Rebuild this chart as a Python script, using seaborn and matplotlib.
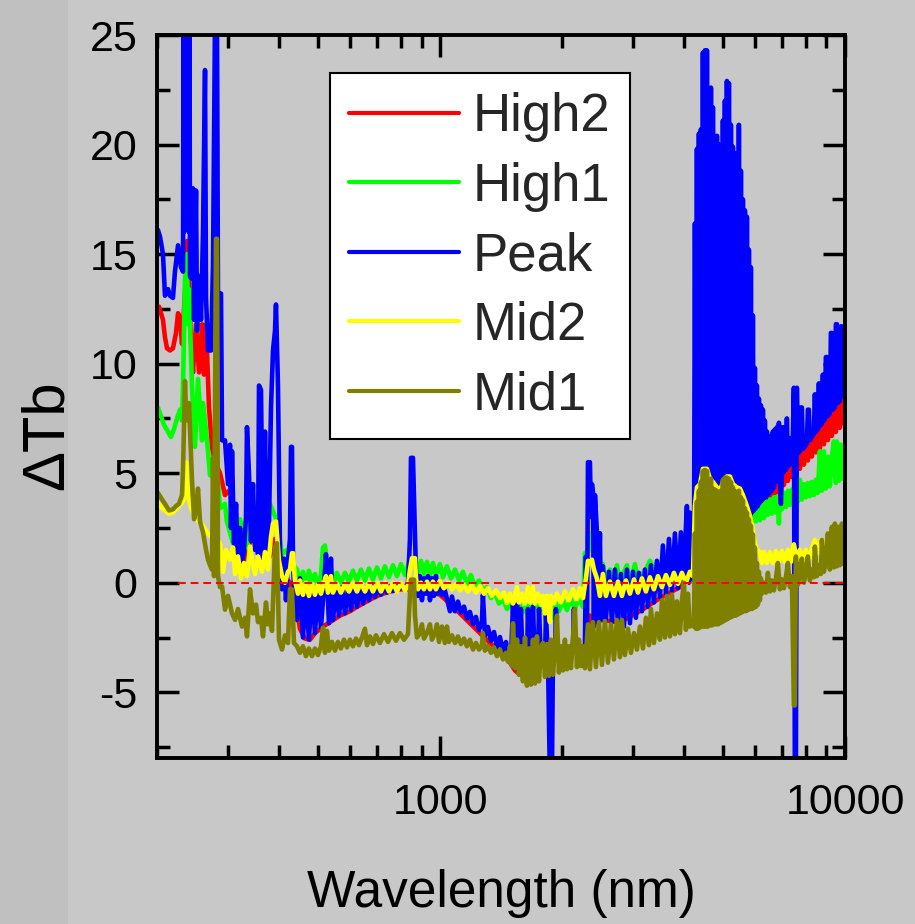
import matplotlib
matplotlib.use("Agg")
import matplotlib.pyplot as plt
from matplotlib.patches import Rectangle
from matplotlib.ticker import FixedLocator, LogLocator, MultipleLocator, NullFormatter, FuncFormatter
import numpy as np
import pandas as pd
import seaborn as sns

# Brightness-temperature differences (K) versus wavelength (nm), one list of
# (wavelength, dTb) pairs per scenario.
HIGH2 = [
    (202.3, 12.6), (204.6, 12.3), (206.9, 12.0), (209.3, 11.2), (211.7, 10.7), (215.3, 10.6),
    (219.0, 10.7), (222.8, 11.4), (225.4, 12.3), (227.9, 12.1), (230.6, 10.9), (233.2, 12.5),
    (235.8, 14.0), (237.2, 15.6), (239.9, 13.6), (242.7, 11.0), (245.4, 9.6), (249.7, 11.8),
    (254.0, 9.6), (258.4, 11.8), (261.3, 9.5), (264.3, 11.8), (268.8, 8.0), (273.4, 6.2),
    (278.1, 5.5), (286.2, 5.0), (294.4, 4.0), (301.2, 4.2), (306.4, 4.0), (311.7, 1.6),
    (320.7, 1.2), (329.9, 0.75), (339.4, 1.9), (349.2, 1.9), (359.2, 1.2), (369.6, 1.0),
    (380.2, 1.2), (391.2, 2.0), (402.5, 1.2), (414.1, 0.3), (426.0, 0.0), (438.3, -0.6),
    (450.9, -2.1), (463.9, -2.55), (477.3, -2.6), (491.0, -2.3), (513.9, -2.0), (534.7, -1.8),
    (566.1, -1.5), (599.2, -1.3), (623.5, -1.1), (652.5, -0.9), (682.9, -0.7), (710.6, -0.55),
    (752.2, -0.4), (796.2, -0.3), (842.8, -0.3), (892.1, -0.35), (944.3, -0.4), (999.5, -0.55),
    (1058, -0.95), (1120, -1.4), (1185, -1.85), (1255, -2.3), (1328, -2.75), (1406, -3.15),
    (1471, -3.5), (1531, -4.0), (1575, -4.2), (1620, -4.2), (1667, -3.9), (1715, -3.7),
    (1816, -3.6), (1922, -3.45), (2034, -3.3), (2153, -3.1), (2279, -3.0), (2345, -1.5),
    (2482, -1.7), (2781, -1.8), (3116, -1.3), (3491, -0.7), (3912, -0.2), (4260, 0.5),
    (4639, 1.5), (5198, 2.0), (5823, 2.8), (5890, 3.2), (6025, 3.35), (6164, 3.5),
    (6306, 3.7), (6450, 3.8), (6524, 4.19), (6599, 3.9), (6674, 4.43), (6751, 4.09),
    (6828, 4.66), (6906, 4.27), (6985, 4.89), (7065, 4.46), (7145, 5.12), (7227, 4.65),
    (7310, 5.35), (7393, 4.83), (7478, 5.59), (7563, 5.02), (7650, 5.82), (7737, 5.2),
    (7826, 6.05), (7915, 5.39), (8006, 6.28), (8097, 5.58), (8190, 6.51), (8283, 5.76),
    (8378, 6.75), (8474, 5.95), (8571, 6.98), (8669, 6.14), (8768, 7.21), (8868, 6.32),
    (8969, 7.44), (9072, 6.51), (9176, 7.67), (9280, 6.7), (9387, 7.91), (9494, 6.88),
    (9602, 8.14), (9712, 7.07), (9823, 8.37), (9936, 7.26), (9992, 8.5),
]

HIGH1 = [
    (201.1, 8.0), (204.6, 7.6), (208.1, 7.2), (212.9, 6.9), (216.5, 6.65), (220.2, 7.0),
    (224.1, 7.5), (227.9, 7.9), (230.6, 7.4), (231.9, 9.0), (234.5, 13.9), (237.2, 15.0),
    (238.6, 11.8), (239.9, 13.4), (244.0, 9.0), (248.2, 6.2), (252.5, 9.3), (258.4, 6.5),
    (259.8, 8.2), (265.8, 6.5), (270.4, 4.9), (275.0, 5.7), (281.3, 5.2), (286.2, 3.4),
    (294.4, 3.6), (297.5, 2.8), (308.2, 1.8), (313.5, 2.3), (320.7, 2.9), (333.6, 1.6),
    (339.4, 2.6), (345.2, 3.2), (353.1, 2.1), (363.3, 1.5), (369.6, 2.3), (380.2, 3.6),
    (395.7, 2.8), (407.1, 1.3), (418.8, 1.5), (426.0, 1.0),
    (443.3, 0.6), (450.9, 0.0), (458.7, 0.5), (466.5, -0.1), (474.5, 0.55), (482.7, 0.0),
    (491.0, 0.4), (499.4, -0.1), (508.0, 0.35), (513.9, 1.6), (519.8, 1.7), (525.7, 0.9),
    (531.7, -0.1), (537.8, 0.7), (547.0, 0.0), (556.5, 0.45), (569.0, 0.0), (582.4, 0.45),
    (595.8, 0.05), (609.5, 0.55), (623.5, 0.1), (637.8, 0.6), (652.5, 0.1), (667.6, 0.65),
    (682.9, 0.15), (698.6, 0.7), (714.7, 0.2), (731.1, 0.75), (748.0, 0.25), (765.2, 0.8),
    (782.8, 0.3), (800.8, 0.85), (819.2, 0.35), (838.1, 0.95), (852.4, 1.05), (867.1, 1.2),
    (882.0, 0.4), (897.2, 1.0), (912.6, 0.4), (928.3, 0.95), (944.3, 0.35), (960.5, 0.9),
    (977.0, 0.3), (999.5, 0.85), (1017, 0.25), (1040, 0.75), (1064, 0.2), (1089, 0.6),
    (1114, 0.1), (1139, 0.5), (1165, -0.05), (1192, 0.35), (1220, -0.2), (1248, 0.1),
    (1276, -0.4), (1306, -0.2), (1336, -0.7), (1366, -0.45), (1398, -0.95), (1430, -0.75),
    (1463, -1.2), (1496, -0.85), (1531, -1.35), (1566, -0.95), (1602, -1.35), (1639, -0.95),
    (1677, -1.3), (1715, -0.9), (1755, -1.3), (1775, -0.9), (1816, -1.45), (1858, -1.0),
    (1889, -1.6), (1922, -0.85), (1966, -1.3), (2011, -0.8), (2058, -1.25), (2105, -0.75),
    (2153, -1.2), (2203, -0.65), (2254, -1.1), (2279, 1.35), (2305, 1.4), (2332, 1.5),
    (2372, 2.26), (2413, 2.3), (2454, 2.25), (2482, 0.9), (2525, 0.85), (2568, 0.0),
    (2628, 0.6), (2673, 0.0), (2734, 0.8), (2781, 0.0), (2845, 0.5), (2894, 0.8),
    (2944, 0.0), (3029, 0.85), (3081, 0.1), (3152, 0.4), (3206, 0.5), (3298, 1.0),
    (3394, 0.5), (3696, 1.0), (3912, 1.3), (4140, 1.5), (4911, 2.0), (5660, 2.3),
    (5823, 2.6), (5890, 2.75), (5957, 3.5), (6025, 2.8), (6094, 3.55), (6164, 2.85),
    (6234, 3.65), (6306, 2.95), (6378, 3.7), (6450, 3.1), (6524, 3.8), (6599, 3.15),
    (6674, 3.9), (6751, 3.2), (6828, 3.95), (6867, 2.7), (6906, 4.0), (6985, 3.35),
    (7065, 4.1), (7145, 3.45), (7227, 4.2), (7310, 3.55), (7393, 4.25), (7478, 3.6),
    (7563, 4.3), (7650, 3.7), (7737, 4.7), (7826, 3.8), (7915, 4.5), (8006, 3.9),
    (8097, 4.55), (8190, 3.95), (8283, 4.6), (8378, 4.0), (8474, 4.7), (8571, 4.1),
    (8669, 6.0), (8768, 4.2), (8868, 6.0), (8969, 4.3), (9072, 5.75), (9176, 4.4),
    (9280, 5.75), (9387, 6.45), (9494, 4.55), (9548, 6.45), (9657, 4.65), (9768, 6.3),
    (9879, 4.75), (9992, 5.4),
]

PEAK = [
    (201.1, 16.1), (203.4, 15.8), (206.9, 15.0), (209.3, 13.1), (212.9, 13.4), (215.3, 13.1),
    (219.0, 13.0), (221.5, 14.2), (225.4, 15.4), (229.2, 14.4), (231.9, 14.2), (232.5, 25.6),
    (233.2, 16.0), (233.9, 25.6), (234.5, 17.0), (235.2, 25.6), (235.8, 18.0), (236.5, 25.6),
    (237.2, 20.0), (237.9, 25.6), (238.6, 23.0), (239.2, 25.6), (239.9, 16.0), (240.6, 25.6),
    (241.3, 14.0), (242.7, 13.9),
    (245.4, 18.0), (246.9, 12.0), (249.7, 17.9), (251.1, 11.5), (254.0, 14.0), (256.9, 12.0),
    (259.8, 16.0), (262.8, 23.4), (264.3, 13.0), (267.3, 10.6), (271.9, 10.6), (275.0, 14.5),
    (278.1, 25.6), (281.3, 25.6), (282.9, 13.2), (287.8, 13.2), (289.5, 6.5), (294.4, 6.5),
    (299.5, 4.5), (302.9, 6.3), (304.6, 2.5), (306.4, 6.0), (309.9, 1.8), (313.5, 3.6),
    (317.0, 0.9), (320.7, 2.5), (324.3, 0.8), (328.0, 1.5), (331.8, 3.0), (333.6, 7.1),
    (337.4, 5.0), (341.3, 1.9), (345.2, 4.5), (349.2, 1.5), (353.1, 3.0), (355.2, 1.3),
    (357.2, 9.0), (361.3, 8.8), (365.4, 0.8), (369.6, 6.9), (373.8, 1.0), (378.0, 2.5),
    (382.4, 8.0), (386.8, 10.6), (391.2, 11.5), (393.4, 12.7), (397.9, 9.0), (402.5, 1.5),
    (407.1, -0.3), (411.7, 1.1), (416.4, -0.8), (421.2, 1.0), (426.0, 2.0), (428.4, 6.2),
    (430.9, 6.2), (433.3, 1.1), (438.3, -1.5),
    (443.3, -1.7), (450.9, 0.2), (458.7, -2.5), (466.5, -0.3), (474.5, -2.6), (482.7, -0.1),
    (491.0, -2.3), (499.4, -0.3), (508.0, -2.05), (516.8, -0.2), (522.7, 1.3), (531.7, -1.85),
    (537.8, 1.1), (543.9, -1.7), (553.3, -0.25), (562.8, -1.5), (572.5, -0.2), (582.4, -1.4),
    (592.4, -0.3), (602.6, -1.25), (613.0, -0.2), (623.5, -1.1), (634.2, -0.15), (645.1, -0.95),
    (656.3, -0.2), (667.6, -0.8), (679.0, -0.1), (690.7, -0.65), (702.6, -0.15), (714.7, -0.55),
    (727.0, -0.1), (739.5, -0.45), (752.2, -0.15), (765.2, -0.38), (778.4, -0.1), (791.8, -0.3),
    (805.4, -0.1), (819.2, -0.28), (833.3, 0.0), (842.8, 2.0), (847.6, 5.7), (857.3, 5.7),
    (862.2, 4.0), (872.0, 0.5), (882.0, -0.6), (892.1, 0.3), (902.3, -0.8), (912.6, 0.2),
    (923.0, -0.5), (933.6, 0.3), (944.3, -0.8), (955.0, 0.2), (966.0, -0.6), (977.0, 0.3),
    (988.2, -0.5), (999.5, 0.1),
    (1011, -0.56), (1028, -0.36), (1058, -1.3), (1070, -0.63), (1088, -1.3), (1107, -0.86),
    (1126, -1.37), (1146, -1.09), (1165, -1.63), (1185, -1.33), (1206, -1.89), (1226, -1.56),
    (1248, -2.15), (1269, -1.79), (1276, -0.55), (1291, -2.41), (1313, -2.02), (1336, -2.66),
    (1359, -2.25), (1382, -2.92), (1406, -2.48), (1430, -3.18), (1455, -2.71),
    (1471, -3.4), (1496, -3.6), (1514, -1.0), (1531, -3.9), (1549, -1.0), (1566, -4.1),
    (1584, -1.2), (1602, -4.1), (1621, -3.9), (1639, -4.0), (1648, -1.2), (1667, -3.8),
    (1686, -3.7), (1696, -1.1), (1715, -3.6), (1745, -3.55), (1755, -1.2), (1775, -3.55),
    (1816, -3.5), (1826, -1.5), (1847, -3.45), (1868, -9.0), (1889, -9.0), (1900, -3.4),
    (1922, -3.35), (1933, -1.2), (1944, -3.35), (2034, -3.2), (2129, -3.05), (2141, -1.2),
    (2153, -3.0), (2254, -2.9), (2279, -2.9),
    (2292, 1.2), (2305, -2.9), (2319, 5.5), (2345, 5.5), (2359, 3.0), (2372, 4.5),
    (2385, 4.15), (2399, -2.0), (2413, 4.0), (2440, 2.3), (2454, -1.8), (2482, 2.26),
    (2496, -1.7), (2525, 0.75), (2568, -1.7), (2613, 0.5), (2658, -1.8), (2703, 0.6),
    (2750, -1.9), (2797, 0.4), (2845, -2.0), (2894, 0.6), (2944, -1.85), (2995, 0.5),
    (3046, -1.6), (3098, 0.45), (3152, -1.3), (3206, 0.6), (3261, -1.1), (3317, 0.8),
    (3374, -0.9), (3432, 1.0), (3491, -0.65), (3551, 1.7), (3613, -0.5), (3675, 2.0),
    (3738, -0.35), (3802, 2.25), (3867, -0.25), (3934, 2.3), (4002, -0.1), (4047, 2.55),
    (4070, 3.5), (4117, 0.0), (4140, 3.2), (4188, 2.7), (4236, 0.1),
    (4260, 16.4), (4284, 1.0), (4309, 19.8), (4333, 1.0), (4358, 20.5), (4383, 1.0),
    (4408, 20.7), (4433, 1.0), (4458, 24.2), (4484, 1.0), (4509, 24.3), (4535, 1.0),
    (4561, 24.3), (4587, 1.0), (4613, 21.4), (4639, 1.0), (4666, 22.6), (4692, 1.0),
    (4719, 21.7), (4746, 1.0), (4773, 19.9), (4800, 1.0), (4828, 20.4), (4855, 1.0),
    (4883, 20.0), (4911, 1.0), (4939, 19.9), (4967, 1.0), (4995, 21.1), (5024, 1.0),
    (5052, 22.0), (5081, 1.0), (5110, 22.9), (5139, 1.0), (5168, 22.8), (5198, 1.0),
    (5227, 20.9), (5257, 1.0), (5287, 19.9), (5317, 1.0), (5347, 19.6), (5378, 1.0),
    (5409, 19.4), (5439, 1.0), (5470, 20.9), (5502, 1.0), (5533, 18.8), (5564, 1.0),
    (5596, 17.5), (5628, 1.0), (5660, 17.0), (5692, 1.0), (5725, 16.7), (5757, 1.0),
    (5790, 15.2), (5823, 3.0), (5856, 14.4), (5890, 3.2), (5923, 12.2), (5957, 3.3),
    (5991, 9.8), (6025, 3.4), (6059, 9.0), (6094, 3.5), (6129, 8.4), (6164, 3.65),
    (6199, 8.1), (6234, 3.75), (6270, 7.9), (6306, 3.85), (6341, 7.4), (6378, 3.9),
    (6414, 6.9), (6450, 4.0), (6487, 6.5), (6524, 4.1), (6561, 6.7), (6599, 4.2),
    (6636, 6.9), (6674, 4.35),
    (6712, 7.0), (6751, 4.6), (6789, 7.1), (6828, 4.7), (6867, 7.3), (6906, 4.8),
    (6945, 3.6), (6985, 4.95), (7025, 7.1), (7065, 5.05), (7105, 7.0), (7145, 5.15),
    (7186, 7.5), (7227, 5.3), (7268, 6.4), (7310, 5.4), (7351, 6.6), (7393, 5.5),
    (7435, 6.8), (7478, 8.9), (7520, -9.0), (7563, -9.0), (7606, 8.9), (7650, 5.9),
    (7737, 6.0), (7781, 8.0), (7826, 8.0), (7870, 6.1), (8051, 6.35), (8097, 7.9),
    (8143, 7.9), (8190, 6.5), (8378, 6.8), (8426, 8.6), (8474, 6.9), (8571, 7.0),
    (8619, 9.1), (8669, 7.15), (8768, 7.25), (8818, 9.5), (8868, 7.4), (8918, 7.45),
    (8969, 10.3), (9020, 10.3), (9072, 7.6), (9176, 7.75), (9228, 11.4), (9280, 11.4),
    (9333, 7.9), (9440, 8.0), (9494, 11.8), (9548, 11.8), (9602, 8.2), (9712, 8.3),
    (9768, 11.7), (9823, 11.7), (9879, 8.5), (9992, 8.6),
]

MID2 = [
    (201.1, 3.65), (205.8, 3.4), (209.3, 3.3), (214.1, 3.15), (219.0, 3.2), (224.1, 3.4),
    (229.2, 3.6), (233.2, 3.8), (235.8, 5.5), (238.6, 4.0), (242.7, 3.4), (248.2, 3.0),
    (254.0, 2.8), (259.8, 2.6), (265.8, 2.3), (271.9, 2.1), (278.1, 2.0), (282.9, 1.9),
    (286.2, 1.8), (291.1, 0.5), (296.1, 1.5), (302.9, 1.05), (308.2, 1.6), (311.7, 0.4),
    (317.0, 1.2), (322.5, 0.2), (328.0, 0.9), (333.6, 0.3), (339.4, 1.65), (343.3, 1.05),
    (349.2, 0.4), (355.2, 1.2), (363.3, 0.5), (369.6, 1.4), (375.9, 0.6), (382.4, 2.1),
    (386.8, 2.7), (393.4, 2.8), (400.2, 1.0), (407.1, 0.3), (414.1, 0.0), (421.2, 0.5),
    (426.0, 0.6), (430.9, 1.35), (433.3, 1.35), (438.3, 0.1), (445.8, -0.5),
    (450.9, 0.1), (458.7, -0.55), (466.5, 0.0), (474.5, -0.6), (482.7, -0.05), (491.0, -0.55),
    (499.4, -0.1), (508.0, -0.5), (516.8, 0.0), (522.7, 0.3), (528.7, -0.45), (537.8, 0.3),
    (543.9, -0.45), (556.5, -0.05), (569.0, -0.45), (582.4, -0.05), (595.8, -0.4), (609.5, 0.0),
    (623.5, -0.4), (637.8, 0.0), (652.5, -0.4), (667.6, 0.0), (682.9, -0.4), (698.6, 0.0),
    (714.7, -0.4), (731.1, 0.0), (748.0, -0.4), (765.2, 0.0), (782.8, -0.4), (800.8, 0.0),
    (819.2, -0.35), (833.3, -0.1), (842.8, 0.6), (852.4, 1.12), (867.1, 1.12), (872.0, 0.2),
    (882.0, -0.3), (897.2, 0.0), (912.6, -0.3), (928.3, 0.05), (944.3, -0.3), (960.5, 0.05),
    (977.0, -0.3), (999.5, 0.1), (1022, -0.25), (1046, 0.0), (1070, -0.3), (1095, -0.05),
    (1120, -0.35), (1146, -0.1), (1172, -0.4), (1199, -0.1), (1227, -0.45), (1255, -0.15),
    (1284, -0.5), (1313, -0.25), (1343, -0.6), (1374, -0.35), (1406, -0.7), (1438, -0.45),
    (1463, -0.93), (1488, -0.5), (1514, -0.95), (1549, -0.2), (1566, -0.9), (1593, -0.5),
    (1621, -0.95), (1648, -0.2), (1667, -0.9), (1696, -0.2), (1715, -0.95), (1745, -0.5),
    (1775, -1.0), (1795, -0.6), (1816, -1.4), (1837, -0.6), (1868, -1.8), (1879, -0.6),
    (1911, -0.95), (1944, -0.5), (1989, -0.9), (2034, -0.4), (2081, -0.8), (2129, -0.3),
    (2178, -0.75), (2216, -0.25), (2254, -0.7), (2292, 0.2), (2319, 1.0), (2345, 0.9),
    (2372, 1.05), (2399, 0.6), (2440, 0.2), (2482, -0.6), (2525, 0.4), (2568, -0.6),
    (2628, 0.05), (2688, -0.6), (2750, 0.05), (2813, -0.6), (2878, 0.1), (2944, -0.5),
    (3012, 0.15), (3081, -0.45), (3152, 0.2), (3224, -0.4), (3298, 0.25), (3374, -0.3),
    (3452, 0.3), (3531, -0.2), (3613, 0.35), (3696, -0.1), (3781, 0.45), (3867, -0.05),
    (3956, 0.45), (4047, 0.0), (4140, 0.5), (4212, 0.3),
    (4260, 3.5), (4309, 4.35), (4383, 4.5), (4458, 5.2), (4561, 5.2), (4639, 4.75),
    (4719, 4.6), (4828, 4.35), (4911, 4.2), (4995, 4.6), (5110, 4.85), (5198, 4.85),
    (5287, 4.5), (5409, 4.35), (5502, 4.3), (5596, 4.0), (5725, 3.5), (5823, 3.05),
    (5923, 2.4), (5991, 1.8), (6059, 1.5), (6164, 1.4),
    (6234, 0.9), (6306, 1.4), (6414, 0.9), (6524, 1.4), (6636, 0.9), (6751, 1.45),
    (6867, 0.95), (6985, 1.45), (7105, 0.95), (7227, 1.5), (7351, 0.95), (7435, 1.6),
    (7478, 1.75), (7606, 1.0), (7737, 1.5), (7870, 1.0), (8006, 1.5), (8143, 1.05),
    (8283, 1.55), (8426, 1.95), (8571, 1.35), (8718, 1.95), (8868, 1.4), (9020, 1.95),
    (9176, 1.45), (9333, 1.95), (9494, 1.5), (9657, 1.95), (9823, 1.5), (9992, 1.9),
]

MID1 = [
    (201.1, 4.1), (205.8, 3.8), (209.3, 3.6), (214.1, 3.3), (219.0, 3.35), (222.8, 3.5),
    (226.6, 3.6), (230.6, 4.0), (231.9, 5.2), (234.5, 9.2), (235.8, 7.8), (238.6, 7.4),
    (239.9, 8.2), (244.0, 4.7), (246.9, 2.9), (249.7, 3.3), (252.5, 4.3), (255.4, 2.8),
    (259.8, 2.3), (264.3, 1.5), (267.3, 1.05), (270.4, 0.8), (273.4, 0.6), (275.0, 5.7),
    (276.6, 0.3), (279.7, 15.7), (281.3, 15.7), (282.9, 0.3), (286.2, -0.2), (289.5, -0.17),
    (294.4, -1.23), (299.5, -0.6), (306.4, -1.4), (311.7, -1.7), (317.0, -1.2), (324.3, -2.0),
    (329.9, -1.6), (333.6, -2.45), (339.4, -0.3), (345.2, -1.4), (351.2, -1.0), (355.2, -1.8),
    (361.3, -1.6), (365.4, -2.45), (371.7, -0.9), (375.9, -1.9), (380.2, -1.4), (384.6, -2.2),
    (391.2, 1.6), (395.7, 1.8), (400.2, -2.6), (407.1, -3.05), (414.1, -2.4), (421.2, -2.75),
    (426.0, -0.3), (430.9, -0.3), (435.8, -2.75), (443.3, -2.9), (450.9, -3.2), (458.7, -2.9),
    (466.5, -3.35), (474.5, -3.0), (482.7, -3.35), (491.0, -3.0), (499.4, -3.3), (508.0, -2.9),
    (513.9, -2.05), (519.8, -3.2), (525.7, -2.2), (531.7, -3.1), (540.9, -2.7), (550.2, -3.1),
    (559.6, -2.7), (569.0, -3.0), (579.1, -2.6), (589.0, -2.95), (599.2, -2.6), (609.5, -2.9),
    (620.0, -2.55), (630.6, -2.85), (641.5, -2.5), (652.5, -2.1), (660.0, -2.85), (671.3, -2.45),
    (682.9, -2.8), (694.7, -2.4), (710.6, -2.75), (727.0, -2.35), (743.7, -2.7), (760.8, -2.3),
    (778.4, -2.65), (796.2, -2.3), (814.6, -2.6), (833.3, -2.35), (842.8, -0.5), (847.6, 0.14),
    (862.2, 0.14), (867.1, -1.5), (877.0, -2.5), (892.1, -2.3), (902.3, -1.9), (912.6, -2.55),
    (928.3, -2.3), (944.3, -1.9), (955.0, -2.6), (971.5, -2.3), (982.6, -1.9), (993.8, -2.7),
    (1011, -2.0), (1028, -2.75), (1040, -2.0), (1052, -2.7), (1070, -2.4), (1089, -2.75),
    (1107, -2.45), (1126, -2.8), (1146, -2.55), (1165, -2.9), (1185, -2.6), (1206, -3.05),
    (1227, -2.75), (1248, -3.05), (1269, -2.85), (1276, -2.3), (1291, -3.1), (1313, -2.9),
    (1336, -3.2), (1359, -2.95), (1382, -3.35), (1406, -3.05), (1430, -3.5), (1455, -3.2),
    (1471, -3.6), (1488, -2.9), (1505, -3.8), (1514, -1.85), (1531, -3.9), (1549, -2.6),
    (1566, -4.2), (1584, -2.9), (1602, -4.5), (1621, -2.5), (1639, -4.7), (1658, -3.0),
    (1677, -4.65), (1696, -2.6), (1715, -4.6), (1735, -2.45), (1755, -4.5), (1775, -3.0),
    (1795, -2.75), (1816, -4.3), (1837, -2.8), (1858, -4.25), (1879, -2.6), (1900, -4.2),
    (1922, -3.0), (1944, -1.5), (1966, -4.1), (1989, -2.9), (2011, -4.0), (2034, -2.6),
    (2058, -3.95), (2081, -2.9), (2105, -3.9), (2129, -2.5), (2153, -1.2), (2178, -3.85),
    (2203, -2.6), (2228, -3.8), (2254, -2.9), (2279, -3.9), (2319, -1.9), (2345, -3.95),
    (2385, -1.8), (2426, -3.85), (2468, -1.8), (2511, -3.75), (2554, -1.75), (2598, -3.65),
    (2643, -1.9), (2688, -3.5), (2734, -1.7), (2781, -3.4), (2813, -1.7), (2861, -3.3),
    (2911, -2.1), (2961, -3.2), (3012, -2.3), (3063, -3.05), (3116, -2.0), (3170, -3.0),
    (3224, -1.6), (3280, -2.85), (3317, -1.2), (3374, -2.75), (3432, -1.4), (3491, -2.6),
    (3531, -0.8), (3592, -2.5), (3633, -0.6), (3696, -2.45), (3738, -0.55), (3802, -2.35),
    (3846, -0.85), (3912, -2.3), (3956, -0.8), (4002, 0.0), (4047, -2.15), (4094, -0.5),
    (4140, -2.0), (4188, -1.8), (4236, -2.0),
    (4260, 2.25), (4284, -2.1), (4309, 3.7), (4333, -2.1), (4358, 4.2), (4383, -2.05),
    (4408, 4.6), (4433, -2.0), (4458, 5.1), (4484, -2.0), (4509, 5.15), (4535, -2.0),
    (4561, 5.1), (4587, -2.0), (4613, 4.5), (4639, -1.95), (4666, 4.75), (4692, -1.95),
    (4719, 4.3), (4746, -1.9), (4773, 4.25), (4800, -1.9), (4828, 4.2), (4855, -1.9),
    (4883, 4.05), (4911, -1.85), (4939, 4.2), (4967, -1.8), (4995, 4.7), (5024, -1.75),
    (5052, 4.8), (5081, -1.7), (5110, 4.8), (5139, -1.65), (5168, 4.75), (5198, -1.6),
    (5227, 4.6), (5257, -1.55), (5287, 4.35), (5317, -1.5), (5347, 4.15), (5378, -1.5),
    (5409, 4.05), (5439, -1.45), (5470, 4.2), (5502, -1.4), (5533, 3.9), (5564, -1.35),
    (5596, 3.75), (5628, -1.3), (5660, 3.4), (5692, -1.3), (5725, 3.2), (5757, -1.25),
    (5790, 2.9), (5823, -1.2), (5856, 2.6), (5890, -1.2), (5923, 2.2), (5957, -1.15),
    (5991, 1.6), (6025, -1.1), (6059, 0.9), (6094, -1.0), (6129, 0.5), (6164, -0.8),
    (6199, 0.2), (6234, -0.5),
    (6306, 0.0), (6378, -0.45), (6450, 0.45), (6524, -0.4), (6599, 0.1), (6674, -0.35),
    (6751, 0.2), (6828, 0.9), (6906, -0.3), (6985, 0.15), (7065, -0.25), (7145, 0.25),
    (7227, 0.9), (7310, -0.2), (7393, 0.3), (7478, -5.6), (7520, -5.6), (7563, 1.2),
    (7650, -0.1), (7737, 0.4), (7826, 1.1), (7915, 0.0), (8006, 0.5), (8097, 1.2),
    (8190, 0.1), (8283, 0.6), (8378, 0.25), (8426, 1.65), (8522, 0.3), (8619, 0.8),
    (8718, 0.4), (8768, 1.95), (8868, 0.5), (8969, 1.0), (9072, 2.25), (9176, 0.6),
    (9280, 2.55), (9387, 0.7), (9440, 2.7), (9548, 0.75), (9602, 2.55), (9712, 0.8),
    (9823, 2.7), (9936, 0.85), (9992, 2.4),
]

ZERO_LINE = [(226.0, 0.0), (10000.0, 0.0)]

SERIES_NAMES = ["High2", "High1", "Peak", "Mid2", "Mid1"]
SERIES_DATA = [HIGH2, HIGH1, PEAK, MID2, MID1]
SERIES_COLORS = ["#ff0000", "#00ff00", "#0000ff", "#ffff00", "#808000"]

X_MAJOR_TICKS = [1000, 10000]
X_LIMITS = (200, 10000)
Y_LIMITS = (-8, 25)

sns.set_style("ticks")
plt.rcParams["font.family"] = ["Liberation Sans Narrow", "Liberation Sans", "DejaVu Sans"]
plt.rcParams["axes.unicode_minus"] = False

BG = "#c8c8c8"
fig = plt.figure(figsize=(9.15, 9.24), dpi=100)
fig.patch.set_facecolor(BG)
fig.add_artist(Rectangle((0, 0), 68 / 915, 1, transform=fig.transFigure,
                         facecolor="#c0c0c0", edgecolor="none", zorder=-1))
ax = fig.add_axes([157 / 915, 1 - 758 / 924, 688 / 915, 723 / 924])
ax.set_facecolor(BG)
ax.set_xscale("log")

LINE_W = 3.3
for name, pts, color in zip(SERIES_NAMES, SERIES_DATA, SERIES_COLORS):
    df = pd.DataFrame(pts, columns=["nm", "dtb"])
    sns.lineplot(data=df, x="nm", y="dtb", ax=ax, color=color, linewidth=LINE_W,
                 sort=False, estimator=None, label=name)
for ln in ax.get_lines():
    ln.set_linewidth(LINE_W)
    ln.set_solid_joinstyle("round")

zero = pd.DataFrame(ZERO_LINE, columns=["nm", "dtb"])
ax.plot(zero["nm"], zero["dtb"], color="#ff0000", linewidth=1.4,
        linestyle=(0, (4, 2.5)), zorder=4)

ax.set_xlim(*X_LIMITS)
ax.set_ylim(*Y_LIMITS)

ax.xaxis.set_major_locator(FixedLocator(X_MAJOR_TICKS))
ax.xaxis.set_major_formatter(FuncFormatter(lambda v, p: f"{v:.0f}"))
ax.xaxis.set_minor_locator(LogLocator(base=10, subs=np.arange(2, 10)))
ax.xaxis.set_minor_formatter(NullFormatter())
ax.yaxis.set_major_locator(MultipleLocator(5))
ax.yaxis.set_minor_locator(MultipleLocator(2.5))

ax.tick_params(axis="both", which="both", direction="in", top=True, right=True,
               width=2.5, color="black", labelcolor="black")
ax.tick_params(which="major", length=16)
ax.tick_params(which="minor", length=9.5)
ax.tick_params(axis="y", which="major", labelsize=31, pad=14)
ax.tick_params(axis="x", which="major", labelsize=31, pad=18)
for s in ax.spines.values():
    s.set_linewidth(2.8)
    s.set_color("black")
    s.set_visible(True)

ax.set_xlabel("Wavelength (nm)", fontsize=37, labelpad=33, color="black")
ax.set_ylabel("ΔTb", fontsize=43, color="black")
ax.yaxis.set_label_coords(-0.119, 0.447)

handles, labels = ax.get_legend_handles_labels()
leg = ax.legend(handles[:5], labels[:5], loc="upper left", bbox_to_anchor=(0.2515, 0.947),
                borderaxespad=0, fontsize=38, frameon=True, fancybox=False,
                framealpha=1, facecolor="white", edgecolor="black",
                handlelength=2.08, handletextpad=0.27, borderpad=0.36,
                labelspacing=0.37)
leg.get_frame().set_linewidth(1.5)
for ln in leg.get_lines():
    ln.set_linewidth(3.0)

fig.savefig("out.png", dpi=100, facecolor=fig.get_facecolor())
